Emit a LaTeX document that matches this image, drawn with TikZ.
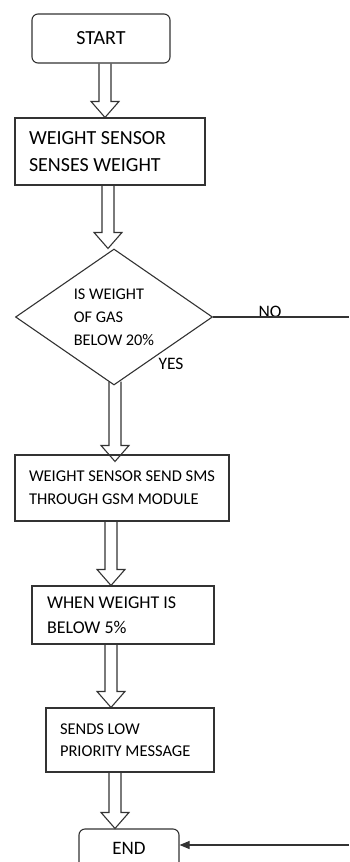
\documentclass[tikz,border=0pt]{standalone}
\usepackage{fontspec}
\setmainfont{Carlito}
\usetikzlibrary{shapes.geometric,arrows.meta,calc}

\newcommand{\blockarrow}[3]{%
	\draw[flow] let \p1=#2, \p2=#3 in
		(#1pt-6pt,\y1) -- (#1pt-6pt,\y2+16pt) -- (#1pt-14pt,\y2+16pt) -- (#1pt,\y2)
		-- (#1pt+14pt,\y2+16pt) -- (#1pt+6pt,\y2+16pt) -- (#1pt+6pt,\y1);}

\begin{document}
\begin{tikzpicture}[x=1pt,y=-1pt,
	flow/.style={line width=1.1pt, black!80, line join=miter},
	term/.style={draw=black!80, line width=1.1pt, rounded corners=6pt, inner sep=0pt},
	proc/.style={draw=black!80, line width=1.1pt, inner xsep=0pt, inner ysep=0pt, align=flush left},
	label/.style={inner sep=0pt, font=\fontsize{17.5}{21}\selectfont}]
	\useasboundingbox (0,0) rectangle (349,862);
	\clip (0,0) rectangle (349,862);
	\node[term, minimum width=138pt, minimum height=49pt, font=\fontsize{20}{24}\selectfont] (start) at (101,38.5) {START};
	\node[proc, minimum width=190pt, minimum height=67pt, text width=162pt, font=\fontsize{20}{27}\selectfont] (sense) at (110,151.5) {WEIGHT SENSOR\\SENSES WEIGHT};
	\node[draw=black!80, line width=1.1pt, shape=diamond, aspect=1.45, inner sep=0pt, minimum width=197pt, minimum height=136pt, align=flush left, font=\fontsize{16.3}{23}\selectfont] (check) at (114,317) {IS WEIGHT\\OF GAS\\BELOW 20\%};
	\node[proc, minimum width=214pt, minimum height=66pt, text width=186pt, font=\fontsize{16.5}{23}\selectfont] (sms) at (122,488) {WEIGHT SENSOR SEND SMS\\THROUGH GSM MODULE};
	\node[proc, minimum width=182pt, minimum height=58pt, text width=152pt, font=\fontsize{18}{25}\selectfont] (low) at (123,615) {WHEN WEIGHT IS\\BELOW 5\%};
	\node[proc, minimum width=168pt, minimum height=64pt, text width=140pt, font=\fontsize{16.5}{22}\selectfont] (msg) at (130,740) {SENDS LOW\\PRIORITY MESSAGE};
	\node[term, minimum width=100pt, minimum height=39pt, font=\fontsize{19}{23}\selectfont] (end) at (129,848.5) {END};
	\node[label] (yes) at (171,364) {YES};
	\node[label, anchor=base] (no) at (270,317) {NO};
	\coordinate (noout) at (349,317);
	\coordinate (endin) at (349,845);
	\blockarrow{105}{(start.south)}{(sense.north)}
	\blockarrow{108}{(sense.south)}{(check.north)}
	\blockarrow{115}{([yshift=4pt]check.south)}{([yshift=-7pt]sms.north)}
	\blockarrow{111}{(sms.south)}{(low.north)}
	\blockarrow{111}{(low.south)}{(msg.north)}
	\blockarrow{115}{(msg.south)}{(end.north)}
	\draw[flow] (check.east) -- (noout);
	\draw[flow, -{Triangle[length=10pt, width=8pt]}] (endin) -- (endin -| end.east);
\end{tikzpicture}
\end{document}
